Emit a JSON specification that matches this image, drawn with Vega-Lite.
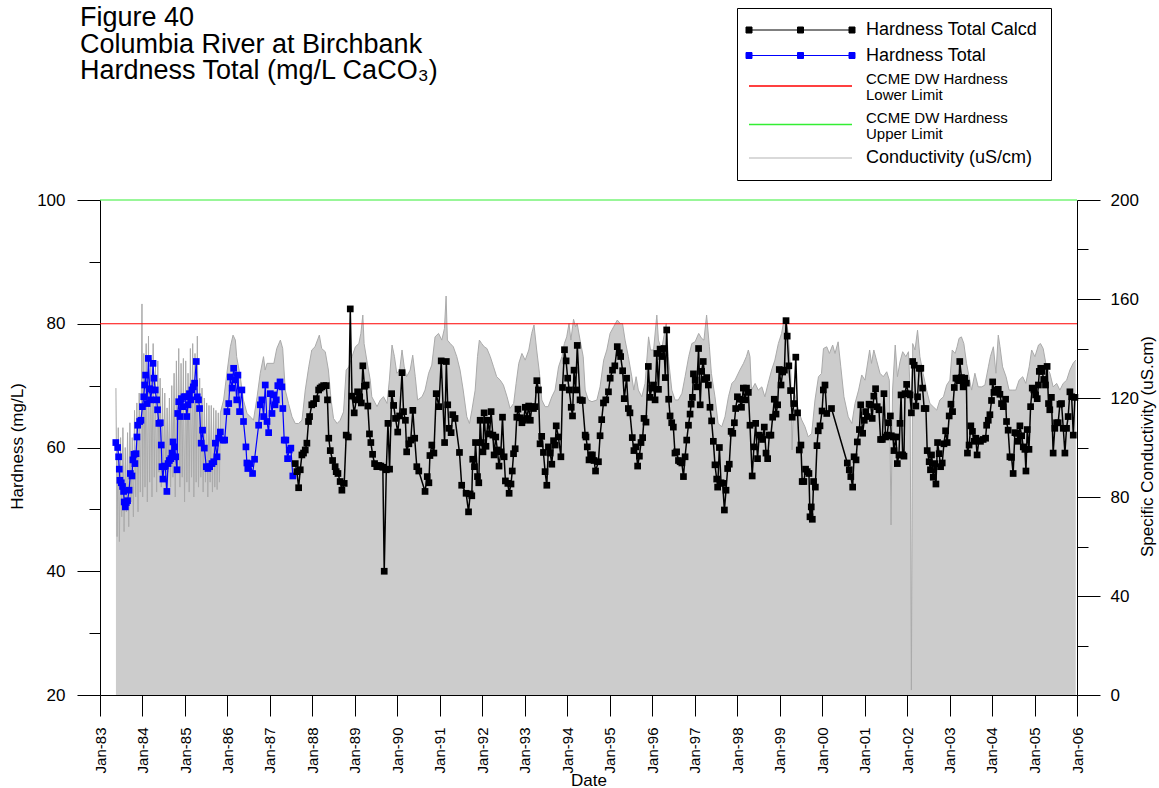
{
"$schema": "https://vega.github.io/schema/vega-lite/v6.json",
"width": 977, "height": 495,
"autosize": {"type": "none"},
"padding": {"left": 100, "top": 200, "right": 82, "bottom": 93},
"background": "#ffffff",
"config": {"view": {"stroke": null}, "font": "Liberation Sans"},
"title": {"text": ["Figure 40", "Columbia River at Birchbank", "Hardness Total (mg/L CaCO₃)"], "anchor": "start", "frame": "group", "offset": -78, "dx": -20, "fontSize": 27, "fontWeight": "normal", "font": "Liberation Sans", "color": "#000000", "lineHeight": 26.7},
"datasets": {
"cond": [
{"t":"1983-05-18","c":124},{"t":"1983-05-28","c":64},{"t":"1983-06-07","c":108},{"t":"1983-06-17","c":62},{"t":"1983-06-27","c":104},{"t":"1983-07-07","c":72},{"t":"1983-07-17","c":108},{"t":"1983-07-27","c":66},{"t":"1983-08-06","c":100},{"t":"1983-08-16","c":74},{"t":"1983-08-26","c":106},{"t":"1983-09-05","c":68},{"t":"1983-09-15","c":110},{"t":"1983-09-25","c":78},{"t":"1983-10-05","c":104},{"t":"1983-10-15","c":72},{"t":"1983-10-25","c":115},{"t":"1983-11-04","c":80},{"t":"1983-11-14","c":118},{"t":"1983-11-24","c":74},{"t":"1983-12-04","c":122},{"t":"1983-12-14","c":82},{"t":"1983-12-24","c":128},{"t":"1983-12-28","c":158},{"t":"1984-01-03","c":80},{"t":"1984-01-13","c":138},{"t":"1984-01-23","c":84},{"t":"1984-02-02","c":142},{"t":"1984-02-12","c":78},{"t":"1984-02-22","c":145},{"t":"1984-03-03","c":86},{"t":"1984-03-13","c":136},{"t":"1984-03-23","c":80},{"t":"1984-04-02","c":142},{"t":"1984-04-12","c":88},{"t":"1984-04-22","c":134},{"t":"1984-05-02","c":82},{"t":"1984-05-12","c":135},{"t":"1984-05-22","c":90},{"t":"1984-06-01","c":128},{"t":"1984-06-11","c":84},{"t":"1984-06-21","c":124},{"t":"1984-07-01","c":88},{"t":"1984-07-11","c":122},{"t":"1984-07-21","c":82},{"t":"1984-07-31","c":116},{"t":"1984-08-10","c":90},{"t":"1984-08-20","c":120},{"t":"1984-08-30","c":84},{"t":"1984-09-09","c":125},{"t":"1984-09-19","c":88},{"t":"1984-09-29","c":130},{"t":"1984-10-09","c":80},{"t":"1984-10-19","c":135},{"t":"1984-10-29","c":90},{"t":"1984-11-08","c":140},{"t":"1984-11-18","c":84},{"t":"1984-11-28","c":134},{"t":"1984-12-08","c":88},{"t":"1984-12-18","c":136},{"t":"1984-12-28","c":78},{"t":"1985-01-07","c":135},{"t":"1985-01-17","c":86},{"t":"1985-01-27","c":130},{"t":"1985-02-06","c":82},{"t":"1985-02-16","c":140},{"t":"1985-02-26","c":88},{"t":"1985-03-08","c":142},{"t":"1985-03-18","c":80},{"t":"1985-03-28","c":138},{"t":"1985-04-07","c":86},{"t":"1985-04-17","c":145},{"t":"1985-04-27","c":84},{"t":"1985-05-07","c":128},{"t":"1985-05-17","c":88},{"t":"1985-05-27","c":124},{"t":"1985-06-06","c":82},{"t":"1985-06-16","c":120},{"t":"1985-06-26","c":86},{"t":"1985-07-06","c":118},{"t":"1985-07-16","c":80},{"t":"1985-07-26","c":117},{"t":"1985-08-05","c":86},{"t":"1985-08-15","c":117},{"t":"1985-08-25","c":82},{"t":"1985-09-04","c":116},{"t":"1985-09-14","c":84},{"t":"1985-09-24","c":115},{"t":"1985-10-04","c":83},{"t":"1985-10-14","c":114},{"t":"1985-10-24","c":86},{"t":"1985-11-01","c":114},
{"t":"1985-11-29","c":119.2},{"t":"1985-12-27","c":130},{"t":"1986-01-26","c":140.7},{"t":"1986-02-18","c":145.4},{"t":"1986-03-10","c":143.4},{"t":"1986-03-21","c":136.7},{"t":"1986-04-21","c":128.6},{"t":"1986-05-18","c":119.2},{"t":"1986-06-18","c":113.8},{"t":"1986-07-16","c":112.4},{"t":"1986-08-13","c":111.1},{"t":"1986-09-13","c":120.5},{"t":"1986-10-10","c":130},{"t":"1986-11-07","c":136.7},{"t":"1986-11-21","c":131.3},{"t":"1986-12-07","c":134},{"t":"1987-02-04","c":134},{"t":"1987-03-01","c":140},{"t":"1987-04-01","c":143.4},{"t":"1987-04-21","c":140},{"t":"1987-05-13","c":123.2},{"t":"1987-06-10","c":117.8},{"t":"1987-07-10","c":112.4},{"t":"1987-08-07","c":109.7},{"t":"1987-09-04","c":109.7},{"t":"1987-10-04","c":111},{"t":"1987-11-01","c":123.2},{"t":"1987-12-01","c":132.6},{"t":"1987-12-27","c":139.4},{"t":"1988-01-24","c":140.7},{"t":"1988-03-01","c":145.4},{"t":"1988-03-21","c":140},{"t":"1988-04-21","c":138.7},{"t":"1988-05-18","c":131.3},{"t":"1988-06-10","c":119.2},{"t":"1988-07-01","c":111.7},{"t":"1988-08-01","c":109.7},{"t":"1988-08-27","c":111},{"t":"1988-09-25","c":114.4},{"t":"1988-10-18","c":131.3},{"t":"1988-11-10","c":132.6},{"t":"1988-12-07","c":136.7},{"t":"1989-01-05","c":140.7},{"t":"1989-02-04","c":142},{"t":"1989-02-21","c":146.1},{"t":"1989-03-10","c":153.5},{"t":"1989-03-21","c":142},{"t":"1989-04-13","c":135.3},{"t":"1989-05-13","c":127.2},{"t":"1989-05-26","c":120.5},{"t":"1989-06-10","c":119.2},{"t":"1989-07-10","c":116.5},{"t":"1989-08-07","c":119.2},{"t":"1989-09-04","c":120.5},{"t":"1989-10-04","c":117.8},{"t":"1989-10-24","c":127.2},{"t":"1989-11-16","c":141.4},{"t":"1989-12-07","c":136.7},{"t":"1989-12-27","c":130},{"t":"1990-01-21","c":131.3},{"t":"1990-02-10","c":139.4},{"t":"1990-03-01","c":132.6},{"t":"1990-03-21","c":128.6},{"t":"1990-04-21","c":131.3},{"t":"1990-05-13","c":137.3},{"t":"1990-06-04","c":128.6},{"t":"1990-06-24","c":119.2},{"t":"1990-08-01","c":120.5},{"t":"1990-08-27","c":123.2},{"t":"1990-09-27","c":130},{"t":"1990-10-24","c":133.3},{"t":"1990-11-21","c":144.7},{"t":"1990-12-21","c":146.1},{"t":"1991-01-18","c":143.4},{"t":"1991-02-10","c":148.1},{"t":"1991-02-24","c":161.2},{"t":"1991-03-07","c":143.4},{"t":"1991-04-01","c":142},{"t":"1991-04-27","c":140.7},{"t":"1991-05-27","c":136.7},{"t":"1991-06-24","c":131.3},{"t":"1991-07-21","c":123.2},{"t":"1991-08-21","c":112.4},{"t":"1991-09-13","c":109.7},{"t":"1991-10-04","c":115.1},{"t":"1991-11-01","c":123.2},{"t":"1991-11-21","c":136.7},{"t":"1991-12-07","c":143.4},{"t":"1991-12-27","c":142},{"t":"1992-01-18","c":140.7},{"t":"1992-02-10","c":140},{"t":"1992-03-10","c":136.7},{"t":"1992-04-07","c":132.6},{"t":"1992-05-04","c":128.6},{"t":"1992-06-04","c":127.2},{"t":"1992-07-01","c":125.2},{"t":"1992-08-01","c":120.5},{"t":"1992-08-27","c":115.8},{"t":"1992-09-27","c":117.8},{"t":"1992-10-18","c":125.9},{"t":"1992-11-10","c":134},{"t":"1992-12-07","c":138},{"t":"1993-01-04","c":135.3},{"t":"1993-02-04","c":139.4},{"t":"1993-03-01","c":146.1},{"t":"1993-03-21","c":149.5},{"t":"1993-04-13","c":139.4},{"t":"1993-05-07","c":130},{"t":"1993-05-27","c":119.2},{"t":"1993-06-24","c":116.5},{"t":"1993-07-21","c":116.5},{"t":"1993-08-21","c":120.5},{"t":"1993-09-18","c":123.2},{"t":"1993-10-18","c":132.6},{"t":"1993-11-16","c":136.7},{"t":"1993-12-07","c":142},{"t":"1993-12-27","c":144.7},{"t":"1994-01-16","c":150.1},{"t":"1994-02-01","c":143.4},{"t":"1994-02-24","c":151.8},{"t":"1994-03-13","c":148.8},{"t":"1994-03-27","c":150.1},{"t":"1994-04-21","c":143.4},{"t":"1994-05-18","c":136.7},{"t":"1994-06-04","c":123.2},{"t":"1994-07-01","c":119.2},{"t":"1994-08-01","c":118.5},{"t":"1994-09-13","c":119.2},{"t":"1994-10-10","c":124.5},{"t":"1994-11-10","c":135.3},{"t":"1994-12-07","c":139.4},{"t":"1995-01-04","c":146.1},{"t":"1995-02-04","c":148.8},{"t":"1995-03-07","c":151.5},{"t":"1995-04-01","c":150.1},{"t":"1995-04-21","c":150.1},{"t":"1995-05-13","c":143.4},{"t":"1995-06-10","c":136.7},{"t":"1995-07-10","c":128.6},{"t":"1995-07-27","c":123.2},{"t":"1995-08-16","c":128.6},{"t":"1995-09-04","c":123.2},{"t":"1995-10-04","c":120.5},{"t":"1995-11-01","c":125.9},{"t":"1995-12-01","c":144.7},{"t":"1995-12-18","c":139.4},{"t":"1996-01-13","c":139.4},{"t":"1996-02-10","c":153.5},{"t":"1996-02-24","c":143.4},{"t":"1996-03-21","c":139.4},{"t":"1996-05-01","c":150.1},{"t":"1996-05-18","c":136.7},{"t":"1996-06-18","c":123.2},{"t":"1996-07-16","c":119.2},{"t":"1996-08-13","c":119.2},{"t":"1996-09-13","c":121.9},{"t":"1996-10-10","c":128.6},{"t":"1996-11-10","c":136.7},{"t":"1996-12-07","c":142},{"t":"1997-01-04","c":142.7},{"t":"1997-02-04","c":146.1},{"t":"1997-03-01","c":144.1},{"t":"1997-03-21","c":143.4},{"t":"1997-04-13","c":153.5},{"t":"1997-05-07","c":140.7},{"t":"1997-05-24","c":130},{"t":"1997-06-24","c":120.5},{"t":"1997-07-21","c":109.7},{"t":"1997-08-21","c":108.4},{"t":"1997-09-18","c":112.4},{"t":"1997-10-18","c":120.5},{"t":"1997-11-16","c":125.9},{"t":"1997-12-13","c":127.2},{"t":"1998-01-24","c":131.3},{"t":"1998-02-24","c":134},{"t":"1998-03-21","c":136.7},{"t":"1998-04-07","c":139.4},{"t":"1998-04-21","c":136.7},{"t":"1998-05-04","c":123.2},{"t":"1998-06-04","c":125.9},{"t":"1998-07-01","c":123.2},{"t":"1998-08-01","c":124.5},{"t":"1998-08-27","c":120.5},{"t":"1998-09-24","c":125.9},{"t":"1998-10-24","c":131.3},{"t":"1998-11-21","c":135.3},{"t":"1998-12-21","c":142},{"t":"1999-01-18","c":146.1},{"t":"1999-02-10","c":152.2},{"t":"1999-02-24","c":152.2},{"t":"1999-03-16","c":146.1},{"t":"1999-04-07","c":130},{"t":"1999-04-18","c":99},{"t":"1999-05-04","c":123.2},{"t":"1999-06-10","c":115.1},{"t":"1999-07-10","c":111.1},{"t":"1999-08-07","c":108.4},{"t":"1999-09-04","c":104.3},{"t":"1999-10-04","c":105.7},{"t":"1999-11-01","c":119.2},{"t":"1999-12-01","c":128.6},{"t":"1999-12-27","c":129.9},{"t":"2000-01-13","c":140},{"t":"2000-02-10","c":140.7},{"t":"2000-03-04","c":138},{"t":"2000-04-01","c":141.4},{"t":"2000-04-21","c":138},{"t":"2000-05-18","c":142.7},{"t":"2000-06-10","c":132.6},{"t":"2000-07-07","c":120.5},{"t":"2000-08-13","c":112.4},{"t":"2000-09-13","c":109.7},{"t":"2000-10-10","c":117.8},{"t":"2000-11-10","c":123.2},{"t":"2000-12-07","c":129.3},{"t":"2001-01-04","c":127.2},{"t":"2001-02-13","c":139.4},{"t":"2001-03-01","c":134},{"t":"2001-03-21","c":139.4},{"t":"2001-04-13","c":135.3},{"t":"2001-05-13","c":130},{"t":"2001-06-10","c":128.6},{"t":"2001-07-10","c":130.6},{"t":"2001-08-01","c":127.2},{"t":"2001-08-16","c":68.7},{"t":"2001-08-29","c":123.2},{"t":"2001-09-21","c":141.4},{"t":"2001-10-10","c":128.6},{"t":"2001-11-01","c":134.6},{"t":"2001-11-24","c":138.7},{"t":"2001-12-21","c":136.7},{"t":"2002-01-13","c":138.7},{"t":"2002-01-27","c":123.2},{"t":"2002-02-07","c":2},{"t":"2002-02-18","c":142},{"t":"2002-03-10","c":139.4},{"t":"2002-04-01","c":147.4},{"t":"2002-04-21","c":136.7},{"t":"2002-05-18","c":130},{"t":"2002-06-18","c":123.2},{"t":"2002-07-16","c":117.8},{"t":"2002-08-13","c":116.5},{"t":"2002-09-13","c":115.1},{"t":"2002-10-10","c":119.2},{"t":"2002-11-10","c":120.5},{"t":"2002-12-07","c":125.2},{"t":"2003-01-04","c":127.2},{"t":"2003-01-24","c":139.4},{"t":"2003-02-18","c":138},{"t":"2003-03-07","c":140.7},{"t":"2003-03-24","c":144.1},{"t":"2003-04-13","c":144.7},{"t":"2003-05-04","c":142},{"t":"2003-05-27","c":134},{"t":"2003-06-18","c":128.6},{"t":"2003-07-10","c":123.2},{"t":"2003-08-07","c":130},{"t":"2003-09-04","c":124.5},{"t":"2003-10-04","c":124.5},{"t":"2003-11-01","c":125.2},{"t":"2003-12-01","c":132.6},{"t":"2003-12-18","c":136.7},{"t":"2004-01-13","c":140.7},{"t":"2004-02-04","c":130},{"t":"2004-02-24","c":145.4},{"t":"2004-03-10","c":140.7},{"t":"2004-04-01","c":132.6},{"t":"2004-05-01","c":128.6},{"t":"2004-05-27","c":123.2},{"t":"2004-06-24","c":123.2},{"t":"2004-07-24","c":123.2},{"t":"2004-08-21","c":127.2},{"t":"2004-09-21","c":128.6},{"t":"2004-10-18","c":125.9},{"t":"2004-11-16","c":132.6},{"t":"2004-12-07","c":139.4},{"t":"2005-01-04","c":136.7},{"t":"2005-02-04","c":141.4},{"t":"2005-02-21","c":142},{"t":"2005-03-16","c":140},{"t":"2005-04-13","c":132.6},{"t":"2005-05-13","c":130},{"t":"2005-06-10","c":124.5},{"t":"2005-07-10","c":125.9},{"t":"2005-08-07","c":123.2},{"t":"2005-09-04","c":125.9},{"t":"2005-10-04","c":127.2},{"t":"2005-11-01","c":131.3},{"t":"2005-11-29","c":134},{"t":"2005-12-21","c":135.3}
],
"total": [
{"t":"1983-05-17","h":60.8},{"t":"1983-06-02","h":60.0},{"t":"1983-06-10","h":58.5},{"t":"1983-06-16","h":56.5},{"t":"1983-06-21","h":54.7},{"t":"1983-07-03","h":54.3},{"t":"1983-07-14","h":53.7},{"t":"1983-07-23","h":52.9},{"t":"1983-07-28","h":51.2},{"t":"1983-08-07","h":50.4},{"t":"1983-08-15","h":51.1},{"t":"1983-08-26","h":51.4},{"t":"1983-09-08","h":53.1},{"t":"1983-09-19","h":55.8},{"t":"1983-10-03","h":55.4},{"t":"1983-10-11","h":58.0},{"t":"1983-10-20","h":58.9},{"t":"1983-10-28","h":57.4},{"t":"1983-11-07","h":59.0},{"t":"1983-11-15","h":61.7},{"t":"1983-11-21","h":63.6},{"t":"1983-12-08","h":64.2},{"t":"1983-12-19","h":64.4},{"t":"1984-01-01","h":66.6},{"t":"1984-01-12","h":68.2},{"t":"1984-01-20","h":70.1},{"t":"1984-01-28","h":71.7},{"t":"1984-02-10","h":67.1},{"t":"1984-02-21","h":74.4},{"t":"1984-03-03","h":69.5},{"t":"1984-03-11","h":67.7},{"t":"1984-03-22","h":69.3},{"t":"1984-04-01","h":73.6},{"t":"1984-04-09","h":71.2},{"t":"1984-04-20","h":69.3},{"t":"1984-05-02","h":67.7},{"t":"1984-05-10","h":66.1},{"t":"1984-05-21","h":63.9},{"t":"1984-06-03","h":64.0},{"t":"1984-06-11","h":60.4},{"t":"1984-06-17","h":56.9},{"t":"1984-06-25","h":54.9},{"t":"1984-07-04","h":56.9},{"t":"1984-07-15","h":57.0},{"t":"1984-07-29","h":52.9},{"t":"1984-08-08","h":57.4},{"t":"1984-08-19","h":57.9},{"t":"1984-09-01","h":58.2},{"t":"1984-09-12","h":59.1},{"t":"1984-09-20","h":60.9},{"t":"1984-10-02","h":60.1},{"t":"1984-10-13","h":58.5},{"t":"1984-10-24","h":56.4},{"t":"1984-10-30","h":65.5},{"t":"1984-11-08","h":67.4},{"t":"1984-11-19","h":65.0},{"t":"1984-12-01","h":67.9},{"t":"1984-12-12","h":66.6},{"t":"1984-12-23","h":68.2},{"t":"1985-01-05","h":68.2},{"t":"1985-01-16","h":65.0},{"t":"1985-01-27","h":66.9},{"t":"1985-02-08","h":68.7},{"t":"1985-02-19","h":67.7},{"t":"1985-03-01","h":69.3},{"t":"1985-03-13","h":69.8},{"t":"1985-03-24","h":70.4},{"t":"1985-04-08","h":73.9},{"t":"1985-04-16","h":68.2},{"t":"1985-04-27","h":67.7},{"t":"1985-05-06","h":66.3},{"t":"1985-05-20","h":60.7},{"t":"1985-06-01","h":62.8},{"t":"1985-06-16","h":59.9},{"t":"1985-07-03","h":56.9},{"t":"1985-07-17","h":56.6},{"t":"1985-08-01","h":56.9},{"t":"1985-08-21","h":57.4},{"t":"1985-09-05","h":57.7},{"t":"1985-09-19","h":60.7},{"t":"1985-10-03","h":58.5},{"t":"1985-10-17","h":61.5},{"t":"1985-11-01","h":62.5},{"t":"1985-11-24","h":61.2},{"t":"1985-12-08","h":61.2},{"t":"1985-12-27","h":65.8},{"t":"1986-01-12","h":67.1},{"t":"1986-01-26","h":71.4},{"t":"1986-02-10","h":69.6},{"t":"1986-02-23","h":72.8},{"t":"1986-03-09","h":70.9},{"t":"1986-03-22","h":67.7},{"t":"1986-04-01","h":71.7},{"t":"1986-04-15","h":65.8},{"t":"1986-05-05","h":69.3},{"t":"1986-05-19","h":64.2},{"t":"1986-06-09","h":60.1},{"t":"1986-06-17","h":57.5},{"t":"1986-06-25","h":56.6},{"t":"1986-07-15","h":57.4},{"t":"1986-08-05","h":55.8},{"t":"1986-08-22","h":58.1},{"t":"1986-09-26","h":63.6},{"t":"1986-10-10","h":66.9},{"t":"1986-10-24","h":67.7},{"t":"1986-11-08","h":65.0},{"t":"1986-11-22","h":70.1},{"t":"1986-12-07","h":64.2},{"t":"1986-12-21","h":62.4},{"t":"1987-01-05","h":68.7},{"t":"1987-01-19","h":65.5},{"t":"1987-02-03","h":68.5},{"t":"1987-02-14","h":66.9},{"t":"1987-02-25","h":67.7},{"t":"1987-03-10","h":70.0},{"t":"1987-03-29","h":70.6},{"t":"1987-04-14","h":69.8},{"t":"1987-04-22","h":66.3},{"t":"1987-05-04","h":61.2},{"t":"1987-05-18","h":61.2},{"t":"1987-06-02","h":58.2},{"t":"1987-06-16","h":59.6},{"t":"1987-06-30","h":59.9},{"t":"1987-07-17","h":55.4}
],
"calcd": [
{"t":"1987-08-07","h":57.4},{"t":"1987-08-21","h":56.1},{"t":"1987-09-05","h":53.5},{"t":"1987-09-19","h":56.4},{"t":"1987-10-03","h":58.8},{"t":"1987-10-17","h":59.1},{"t":"1987-11-01","h":59.6},{"t":"1987-11-15","h":60.7},{"t":"1987-11-29","h":64.2},{"t":"1987-12-08","h":65.0},{"t":"1987-12-27","h":66.9},{"t":"1988-01-12","h":67.1},{"t":"1988-02-04","h":67.9},{"t":"1988-02-24","h":69.3},{"t":"1988-03-08","h":69.6},{"t":"1988-03-22","h":69.8},{"t":"1988-04-07","h":70.0},{"t":"1988-04-29","h":70.0},{"t":"1988-05-10","h":67.7},{"t":"1988-05-21","h":61.5},{"t":"1988-06-03","h":59.5},{"t":"1988-06-23","h":57.9},{"t":"1988-07-15","h":56.9},{"t":"1988-07-24","h":56.1},{"t":"1988-08-08","h":55.8},{"t":"1988-08-27","h":54.5},{"t":"1988-09-11","h":53.1},{"t":"1988-10-01","h":54.2},{"t":"1988-10-18","h":62.0},{"t":"1988-11-05","h":61.7},{"t":"1988-11-22","h":82.4},{"t":"1988-12-07","h":68.3},{"t":"1988-12-26","h":65.6},{"t":"1989-01-13","h":67.7},{"t":"1989-01-24","h":69.0},{"t":"1989-02-11","h":68.2},{"t":"1989-02-25","h":67.2},{"t":"1989-03-10","h":73.2},{"t":"1989-03-24","h":69.9},{"t":"1989-04-08","h":70.1},{"t":"1989-04-22","h":66.7},{"t":"1989-05-06","h":62.2},{"t":"1989-05-18","h":60.8},{"t":"1989-06-02","h":58.9},{"t":"1989-06-19","h":57.4},{"t":"1989-07-08","h":56.9},{"t":"1989-07-26","h":57.1},{"t":"1989-08-12","h":57.0},{"t":"1989-08-29","h":56.8},{"t":"1989-09-10","h":40.0},{"t":"1989-09-28","h":56.4},{"t":"1989-10-12","h":63.9},{"t":"1989-10-26","h":56.5},{"t":"1989-11-13","h":68.7},{"t":"1989-11-30","h":66.8},{"t":"1989-12-16","h":64.7},{"t":"1990-01-04","h":62.5},{"t":"1990-01-20","h":65.1},{"t":"1990-02-10","h":72.1},{"t":"1990-02-23","h":65.8},{"t":"1990-03-11","h":64.4},{"t":"1990-03-22","h":59.3},{"t":"1990-04-10","h":60.6},{"t":"1990-04-26","h":61.2},{"t":"1990-05-14","h":66.0},{"t":"1990-05-30","h":61.5},{"t":"1990-06-17","h":56.9},{"t":"1990-07-04","h":56.2},{"t":"1990-08-27","h":52.9},{"t":"1990-09-15","h":55.3},{"t":"1990-09-29","h":54.3},{"t":"1990-10-08","h":58.7},{"t":"1990-10-24","h":60.4},{"t":"1990-11-11","h":59.1},{"t":"1990-12-01","h":68.7},{"t":"1990-12-24","h":66.6},{"t":"1991-01-13","h":74.0},{"t":"1991-02-11","h":60.8},{"t":"1991-02-26","h":73.9},{"t":"1991-03-10","h":66.9},{"t":"1991-03-21","h":63.1},{"t":"1991-04-08","h":62.4},{"t":"1991-04-22","h":65.3},{"t":"1991-05-12","h":64.7},{"t":"1991-06-19","h":59.2},{"t":"1991-07-08","h":53.9},{"t":"1991-08-15","h":52.6},{"t":"1991-09-05","h":49.6},{"t":"1991-09-19","h":52.5},{"t":"1991-10-03","h":52.2},{"t":"1991-10-11","h":58.1},{"t":"1991-10-26","h":56.9},{"t":"1991-11-04","h":60.8},{"t":"1991-11-21","h":55.3},{"t":"1991-12-02","h":54.3},{"t":"1991-12-14","h":64.4},{"t":"1991-12-25","h":60.8},{"t":"1992-01-07","h":59.3},{"t":"1992-01-17","h":65.6},{"t":"1992-02-02","h":60.2},{"t":"1992-02-18","h":64.4},{"t":"1992-03-03","h":62.2},{"t":"1992-03-17","h":65.8},{"t":"1992-04-01","h":62.0},{"t":"1992-04-12","h":58.8},{"t":"1992-04-26","h":61.7},{"t":"1992-05-10","h":59.6},{"t":"1992-05-24","h":57.0},{"t":"1992-06-09","h":59.3},{"t":"1992-06-23","h":64.9},{"t":"1992-07-07","h":58.5},{"t":"1992-07-18","h":54.6},{"t":"1992-08-08","h":54.2},{"t":"1992-08-19","h":52.6},{"t":"1992-09-04","h":54.1},{"t":"1992-09-15","h":56.2},{"t":"1992-09-26","h":59.0},{"t":"1992-10-10","h":59.8},{"t":"1992-10-24","h":64.9},{"t":"1992-11-03","h":66.2},{"t":"1992-11-22","h":64.8},{"t":"1992-12-07","h":64.0},{"t":"1992-12-21","h":64.4},{"t":"1993-01-05","h":66.5},{"t":"1993-01-19","h":64.7},{"t":"1993-02-03","h":66.7},{"t":"1993-02-17","h":64.4},{"t":"1993-03-02","h":66.6},{"t":"1993-03-16","h":66.3},{"t":"1993-03-30","h":66.6},{"t":"1993-04-14","h":70.8},{"t":"1993-04-28","h":69.3},{"t":"1993-05-12","h":60.6},{"t":"1993-05-26","h":61.8},{"t":"1993-06-10","h":59.2},{"t":"1993-06-24","h":56.1},{"t":"1993-07-09","h":53.9},{"t":"1993-07-23","h":60.1},{"t":"1993-08-07","h":59.1},{"t":"1993-08-21","h":57.3},{"t":"1993-09-05","h":61.1},{"t":"1993-09-19","h":60.4},{"t":"1993-09-28","h":63.5},{"t":"1993-10-17","h":61.7},{"t":"1993-11-07","h":58.5},{"t":"1993-11-21","h":69.7},{"t":"1993-12-08","h":75.8},{"t":"1993-12-22","h":74.0},{"t":"1994-01-04","h":71.2},{"t":"1994-01-18","h":69.3},{"t":"1994-02-04","h":66.5},{"t":"1994-02-15","h":65.1},{"t":"1994-02-28","h":72.5},{"t":"1994-03-14","h":69.3},{"t":"1994-03-28","h":76.5},{"t":"1994-04-21","h":67.7},{"t":"1994-05-11","h":67.6},{"t":"1994-06-04","h":62.0},{"t":"1994-06-11","h":61.7},{"t":"1994-06-22","h":60.1},{"t":"1994-07-07","h":58.0},{"t":"1994-07-21","h":58.8},{"t":"1994-08-05","h":58.8},{"t":"1994-08-19","h":57.9},{"t":"1994-09-01","h":56.2},{"t":"1994-09-26","h":57.7},{"t":"1994-10-10","h":61.9},{"t":"1994-10-24","h":64.5},{"t":"1994-11-08","h":67.2},{"t":"1994-11-28","h":67.7},{"t":"1994-12-21","h":69.0},{"t":"1995-01-05","h":71.2},{"t":"1995-01-25","h":72.5},{"t":"1995-02-14","h":73.2},{"t":"1995-03-07","h":76.3},{"t":"1995-03-24","h":75.3},{"t":"1995-04-05","h":74.7},{"t":"1995-04-22","h":72.4},{"t":"1995-05-06","h":67.9},{"t":"1995-05-26","h":71.2},{"t":"1995-06-10","h":66.3},{"t":"1995-06-24","h":65.6},{"t":"1995-07-14","h":61.6},{"t":"1995-07-28","h":59.5},{"t":"1995-08-15","h":60.1},{"t":"1995-08-29","h":57.0},{"t":"1995-09-13","h":58.6},{"t":"1995-09-27","h":60.8},{"t":"1995-10-11","h":61.6},{"t":"1995-10-23","h":64.7},{"t":"1995-11-09","h":64.1},{"t":"1995-11-29","h":73.1},{"t":"1995-12-14","h":68.1},{"t":"1995-12-28","h":69.6},{"t":"1996-01-12","h":70.1},{"t":"1996-01-26","h":67.7},{"t":"1996-02-10","h":75.2},{"t":"1996-02-24","h":69.4},{"t":"1996-03-09","h":75.9},{"t":"1996-03-25","h":74.7},{"t":"1996-04-12","h":76.0},{"t":"1996-04-23","h":71.3},{"t":"1996-05-05","h":79.0},{"t":"1996-05-22","h":67.8},{"t":"1996-06-03","h":65.1},{"t":"1996-06-17","h":64.0},{"t":"1996-07-01","h":63.3},{"t":"1996-07-15","h":59.1},{"t":"1996-07-29","h":59.3},{"t":"1996-08-14","h":57.9},{"t":"1996-08-28","h":57.7},{"t":"1996-09-12","h":57.5},{"t":"1996-09-26","h":55.3},{"t":"1996-10-10","h":58.5},{"t":"1996-10-24","h":61.2},{"t":"1996-11-08","h":63.6},{"t":"1996-11-22","h":65.4},{"t":"1996-12-01","h":67.0},{"t":"1996-12-12","h":68.1},{"t":"1996-12-21","h":71.9},{"t":"1997-01-05","h":70.9},{"t":"1997-01-19","h":69.8},{"t":"1997-02-03","h":76.0},{"t":"1997-02-17","h":66.9},{"t":"1997-03-01","h":72.3},{"t":"1997-03-15","h":73.9},{"t":"1997-03-29","h":71.0},{"t":"1997-04-14","h":71.3},{"t":"1997-04-28","h":70.1},{"t":"1997-05-12","h":66.5},{"t":"1997-05-26","h":64.3},{"t":"1997-06-10","h":61.0},{"t":"1997-06-24","h":57.2},{"t":"1997-07-09","h":54.9},{"t":"1997-07-17","h":53.6},{"t":"1997-08-01","h":60.0},{"t":"1997-08-15","h":54.3},{"t":"1997-08-29","h":54.2},{"t":"1997-09-13","h":49.9},{"t":"1997-09-27","h":53.1},{"t":"1997-10-11","h":56.6},{"t":"1997-10-25","h":57.3},{"t":"1997-11-10","h":62.6},{"t":"1997-11-24","h":62.3},{"t":"1997-12-08","h":64.0},{"t":"1997-12-19","h":66.3},{"t":"1998-01-03","h":68.2},{"t":"1998-01-20","h":67.8},{"t":"1998-02-07","h":66.5},{"t":"1998-02-23","h":69.6},{"t":"1998-03-08","h":67.7},{"t":"1998-03-22","h":69.6},{"t":"1998-04-07","h":68.9},{"t":"1998-04-21","h":63.6},{"t":"1998-05-10","h":55.4},{"t":"1998-05-25","h":60.1},{"t":"1998-06-09","h":63.9},{"t":"1998-06-25","h":58.2},{"t":"1998-07-10","h":62.0},{"t":"1998-07-24","h":61.7},{"t":"1998-08-08","h":61.3},{"t":"1998-08-22","h":63.3},{"t":"1998-09-06","h":59.1},{"t":"1998-09-20","h":58.2},{"t":"1998-10-04","h":62.0},{"t":"1998-10-18","h":62.0},{"t":"1998-11-02","h":64.9},{"t":"1998-11-16","h":67.8},{"t":"1998-12-01","h":65.4},{"t":"1998-12-15","h":66.9},{"t":"1998-12-29","h":72.6},{"t":"1999-01-13","h":70.1},{"t":"1999-01-27","h":72.2},{"t":"1999-02-11","h":72.5},{"t":"1999-02-25","h":80.5},{"t":"1999-03-07","h":78.0},{"t":"1999-03-21","h":73.2},{"t":"1999-04-05","h":69.2},{"t":"1999-04-19","h":64.9},{"t":"1999-05-03","h":67.1},{"t":"1999-05-20","h":74.6},{"t":"1999-06-04","h":65.6},{"t":"1999-06-19","h":59.6},{"t":"1999-07-03","h":60.4},{"t":"1999-07-14","h":54.5},{"t":"1999-07-28","h":54.5},{"t":"1999-08-12","h":56.5},{"t":"1999-08-26","h":56.1},{"t":"1999-09-10","h":55.8},{"t":"1999-09-19","h":48.8},{"t":"1999-09-30","h":50.4},{"t":"1999-10-09","h":48.4},{"t":"1999-10-20","h":54.5},{"t":"1999-11-04","h":53.6},{"t":"1999-11-18","h":60.3},{"t":"1999-11-29","h":62.7},{"t":"1999-12-14","h":63.5},{"t":"2000-01-01","h":65.9},{"t":"2000-01-12","h":69.3},{"t":"2000-01-26","h":70.1},{"t":"2000-02-10","h":65.5},{"t":"2000-03-22","h":66.3},{"t":"2000-08-05","h":57.5},{"t":"2000-08-22","h":56.4},{"t":"2000-09-04","h":55.3},{"t":"2000-09-20","h":53.6},{"t":"2000-10-02","h":58.5},{"t":"2000-10-19","h":58.0},{"t":"2000-10-30","h":60.9},{"t":"2000-11-17","h":62.9},{"t":"2000-11-28","h":66.9},{"t":"2000-12-15","h":62.3},{"t":"2000-12-29","h":64.4},{"t":"2001-01-10","h":65.8},{"t":"2001-01-24","h":65.0},{"t":"2001-02-08","h":67.0},{"t":"2001-02-22","h":66.9},{"t":"2001-03-07","h":64.7},{"t":"2001-03-21","h":68.3},{"t":"2001-04-05","h":69.5},{"t":"2001-04-19","h":66.6},{"t":"2001-05-04","h":66.1},{"t":"2001-05-18","h":61.3},{"t":"2001-06-02","h":61.3},{"t":"2001-06-16","h":68.7},{"t":"2001-06-30","h":61.7},{"t":"2001-07-14","h":62.0},{"t":"2001-07-25","h":64.0},{"t":"2001-08-10","h":65.1},{"t":"2001-08-18","h":61.9},{"t":"2001-09-02","h":61.7},{"t":"2001-09-10","h":59.5},{"t":"2001-09-27","h":61.7},{"t":"2001-10-09","h":57.4},{"t":"2001-10-23","h":58.8},{"t":"2001-11-01","h":63.9},{"t":"2001-11-10","h":68.5},{"t":"2001-11-24","h":58.8},{"t":"2001-12-05","h":58.6},{"t":"2001-12-14","h":68.7},{"t":"2001-12-28","h":70.2},{"t":"2002-01-12","h":68.7},{"t":"2002-01-26","h":68.5},{"t":"2002-02-07","h":65.6},{"t":"2002-02-18","h":73.9},{"t":"2002-03-03","h":73.3},{"t":"2002-03-17","h":66.7},{"t":"2002-04-01","h":68.2},{"t":"2002-04-15","h":72.8},{"t":"2002-04-29","h":72.8},{"t":"2002-05-14","h":69.6},{"t":"2002-05-28","h":66.3},{"t":"2002-06-12","h":66.3},{"t":"2002-06-23","h":59.5},{"t":"2002-07-10","h":57.7},{"t":"2002-07-21","h":56.4},{"t":"2002-07-30","h":58.8},{"t":"2002-08-14","h":55.2},{"t":"2002-08-28","h":57.4},{"t":"2002-09-06","h":54.1},{"t":"2002-09-20","h":60.8},{"t":"2002-10-04","h":59.0},{"t":"2002-10-16","h":56.9},{"t":"2002-10-30","h":57.5},{"t":"2002-11-14","h":60.6},{"t":"2002-11-28","h":62.7},{"t":"2002-12-12","h":60.8},{"t":"2002-12-29","h":65.1},{"t":"2003-01-13","h":67.0},{"t":"2003-01-27","h":65.8},{"t":"2003-02-11","h":69.7},{"t":"2003-02-25","h":71.2},{"t":"2003-03-10","h":71.2},{"t":"2003-03-24","h":70.8},{"t":"2003-03-30","h":73.9},{"t":"2003-04-14","h":71.3},{"t":"2003-04-28","h":69.8},{"t":"2003-05-12","h":71.2},{"t":"2003-05-26","h":70.4},{"t":"2003-06-04","h":59.1},{"t":"2003-06-18","h":60.4},{"t":"2003-07-03","h":63.5},{"t":"2003-07-17","h":62.6},{"t":"2003-08-01","h":61.0},{"t":"2003-08-15","h":61.5},{"t":"2003-08-26","h":58.8},{"t":"2003-09-10","h":61.1},{"t":"2003-09-24","h":61.0},{"t":"2003-10-17","h":61.3},{"t":"2003-11-07","h":61.5},{"t":"2003-11-16","h":63.6},{"t":"2003-11-30","h":64.4},{"t":"2003-12-14","h":65.3},{"t":"2003-12-28","h":67.6},{"t":"2004-01-07","h":70.6},{"t":"2004-01-18","h":68.9},{"t":"2004-02-05","h":69.3},{"t":"2004-02-24","h":69.4},{"t":"2004-03-09","h":68.6},{"t":"2004-03-23","h":67.1},{"t":"2004-04-07","h":66.6},{"t":"2004-04-27","h":67.8},{"t":"2004-05-05","h":64.2},{"t":"2004-05-19","h":62.8},{"t":"2004-06-03","h":58.5},{"t":"2004-06-17","h":58.4},{"t":"2004-07-01","h":55.8},{"t":"2004-07-16","h":62.4},{"t":"2004-07-30","h":62.3},{"t":"2004-08-14","h":61.0},{"t":"2004-08-28","h":63.5},{"t":"2004-09-12","h":61.9},{"t":"2004-09-26","h":60.1},{"t":"2004-10-10","h":59.7},{"t":"2004-10-19","h":56.2},{"t":"2004-10-30","h":62.9},{"t":"2004-11-14","h":59.7},{"t":"2004-11-28","h":66.6},{"t":"2004-12-12","h":69.6},{"t":"2004-12-26","h":69.3},{"t":"2005-01-10","h":68.5},{"t":"2005-01-24","h":67.9},{"t":"2005-02-03","h":70.1},{"t":"2005-02-11","h":72.3},{"t":"2005-02-23","h":72.8},{"t":"2005-03-07","h":72.3},{"t":"2005-03-21","h":71.0},{"t":"2005-04-05","h":70.1},{"t":"2005-04-19","h":73.1},{"t":"2005-05-01","h":67.1},{"t":"2005-05-12","h":66.1},{"t":"2005-05-26","h":68.1},{"t":"2005-06-10","h":59.1},{"t":"2005-06-24","h":63.1},{"t":"2005-07-09","h":64.0},{"t":"2005-07-23","h":64.0},{"t":"2005-08-07","h":67.0},{"t":"2005-08-21","h":67.1},{"t":"2005-09-05","h":63.1},{"t":"2005-09-19","h":59.1},{"t":"2005-10-03","h":63.1},{"t":"2005-10-17","h":65.0},{"t":"2005-11-01","h":69.0},{"t":"2005-11-16","h":68.2},{"t":"2005-11-30","h":62.0},{"t":"2005-12-14","h":68.1}
]
},
"layer": [
{"data": {"name": "cond"},
 "layer": [
  {"mark": {"type": "area", "opacity": 1},
   "encoding": {
    "x": {"field": "t", "type": "temporal",
      "scale": {"type": "utc", "domain": [{"year": 1983, "month": 1, "date": 1, "utc": true}, {"year": 2006, "month": 1, "date": 1, "utc": true}]},
      "axis": {"orient": "bottom",
        "values": [{"year":1983,"month":1,"date":1,"utc":true},{"year":1983,"month":7,"date":1,"utc":true},{"year":1984,"month":1,"date":1,"utc":true},{"year":1984,"month":7,"date":1,"utc":true},{"year":1985,"month":1,"date":1,"utc":true},{"year":1985,"month":7,"date":1,"utc":true},{"year":1986,"month":1,"date":1,"utc":true},{"year":1986,"month":7,"date":1,"utc":true},{"year":1987,"month":1,"date":1,"utc":true},{"year":1987,"month":7,"date":1,"utc":true},{"year":1988,"month":1,"date":1,"utc":true},{"year":1988,"month":7,"date":1,"utc":true},{"year":1989,"month":1,"date":1,"utc":true},{"year":1989,"month":7,"date":1,"utc":true},{"year":1990,"month":1,"date":1,"utc":true},{"year":1990,"month":7,"date":1,"utc":true},{"year":1991,"month":1,"date":1,"utc":true},{"year":1991,"month":7,"date":1,"utc":true},{"year":1992,"month":1,"date":1,"utc":true},{"year":1992,"month":7,"date":1,"utc":true},{"year":1993,"month":1,"date":1,"utc":true},{"year":1993,"month":7,"date":1,"utc":true},{"year":1994,"month":1,"date":1,"utc":true},{"year":1994,"month":7,"date":1,"utc":true},{"year":1995,"month":1,"date":1,"utc":true},{"year":1995,"month":7,"date":1,"utc":true},{"year":1996,"month":1,"date":1,"utc":true},{"year":1996,"month":7,"date":1,"utc":true},{"year":1997,"month":1,"date":1,"utc":true},{"year":1997,"month":7,"date":1,"utc":true},{"year":1998,"month":1,"date":1,"utc":true},{"year":1998,"month":7,"date":1,"utc":true},{"year":1999,"month":1,"date":1,"utc":true},{"year":1999,"month":7,"date":1,"utc":true},{"year":2000,"month":1,"date":1,"utc":true},{"year":2000,"month":7,"date":1,"utc":true},{"year":2001,"month":1,"date":1,"utc":true},{"year":2001,"month":7,"date":1,"utc":true},{"year":2002,"month":1,"date":1,"utc":true},{"year":2002,"month":7,"date":1,"utc":true},{"year":2003,"month":1,"date":1,"utc":true},{"year":2003,"month":7,"date":1,"utc":true},{"year":2004,"month":1,"date":1,"utc":true},{"year":2004,"month":7,"date":1,"utc":true},{"year":2005,"month":1,"date":1,"utc":true},{"year":2005,"month":7,"date":1,"utc":true},{"year":2006,"month":1,"date":1,"utc":true}],
        "format": "%b-%y",
        "labelExpr": "utcmonth(datum.value) == 6 ? '' : datum.label",
        "labelAngle": 270, "labelAlign": "right", "labelBaseline": "middle", "labelPadding": 11,
        "labelFont": "Liberation Sans", "labelFontSize": 15, "labelColor": "#000000",
        "labelOverlap": false, "labelFlush": false, "labelBound": false,
        "tickSize": {"condition": {"test": "utcmonth(datum.value) == 6", "value": 11}, "value": 21},
        "tickColor": "#000000", "tickWidth": 1, "domainColor": "#000000", "domainWidth": 1, "grid": false,
        "title": "Date", "titleFont": "Liberation Sans", "titleFontSize": 17, "titleFontWeight": "normal", "titleColor": "#000000", "titleY": 90, "titleBaseline": "alphabetic"}},
    "y": {"field": "c", "type": "quantitative",
      "scale": {"domain": [0, 200], "nice": false, "zero": false},
      "axis": {"orient": "right", "values": [0,20,40,60,80,100,120,140,160,180,200],
        "labelExpr": "datum.value % 40 == 0 ? datum.label : ''",
        "tickSize": {"condition": {"test": "datum.value % 40 != 0", "value": 11}, "value": 23},
        "labelPadding": 10, "labelFont": "Liberation Sans", "labelFontSize": 17, "labelColor": "#000000",
        "labelOverlap": false, "labelFlush": false, "labelBound": false,
        "tickColor": "#000000", "domainColor": "#000000", "grid": false,
        "title": "Specific Conductivity (uS.cm)", "titleFont": "Liberation Sans", "titleFontSize": 17, "titleFontWeight": "normal", "titleColor": "#000000",
        "titleAngle": 270, "titleX": 70, "titleY": 246, "titleAlign": "center", "titleBaseline": "middle"}},
    "color": {"datum": "Conductivity (uS/cm)",
      "scale": {"domain": ["Hardness Total Calcd", "Hardness Total", "CCME DW Hardness|Lower Limit", "CCME DW Hardness|Upper Limit", "Conductivity (uS/cm)"],
                "range": ["#000000", "#0000ff", "#ff0000", "#33ee33", "#cccccc"]},
      "legend": {"orient": "none", "legendX": 637, "legendY": -192, "title": null,
        "padding": 13, "strokeColor": "#000000", "fillColor": "#ffffff",
        "labelFont": "Liberation Sans", "labelFontSize": 18, "labelColor": "#000000", "labelLimit": 400,
        "labelExpr": "split(datum.label, '|')",
        "symbolSize": 400, "symbolOffset": 41.5, "labelOffset": 56.5, "symbolStrokeWidth": 1, "rowPadding": 7.5,
        "encoding": {
          "symbols": {
            "shape": {"condition": {"test": "indexof(datum.value, 'Hardness Total') == 0", "value": "M-5.15,0H5.15M-5.45,-0.3H-4.85V0.3H-5.45ZM-0.3,-0.3H0.3V0.3H-0.3ZM4.85,-0.3H5.45V0.3H4.85Z"}, "value": "M-5.15,-0.07H5.15V0.07H-5.15Z"},
            "size": {"value": 400},
            "strokeWidth": {"value": {"expr": "datum.value && indexof(datum.value, 'Hardness Total') == 0 ? 1 : 0"}},
            "opacity": {"value": 1},
            "fill": {"condition": [{"test": "datum.value == 'Hardness Total Calcd'", "value": "#000000"}, {"test": "datum.value == 'Hardness Total'", "value": "#0000ff"}, {"test": "indexof(datum.value, 'Lower') >= 0", "value": "#ff3333"}, {"test": "indexof(datum.value, 'Upper') >= 0", "value": "#44ee44"}], "value": "#cccccc"},
            "stroke": {"condition": [{"test": "datum.value == 'Hardness Total Calcd'", "value": "#000000"}, {"test": "datum.value == 'Hardness Total'", "value": "#0000ff"}], "value": "transparent"}
          },
          "labels": {
            "fontSize": {"value": {"expr": "datum.value && indexof(datum.value, 'CCME') == 0 ? 15 : 18"}},
            "dy": {"value": {"expr": "datum.value && indexof(datum.value, 'CCME') == 0 ? -7 : 0"}},
            "lineHeight": {"value": 16}
          }
        }}}
   }},
  {"mark": {"type": "line", "color": "#aaaaaa", "strokeWidth": 1},
   "encoding": {
    "x": {"field": "t", "type": "temporal", "scale": {"type": "utc"}},
    "y": {"field": "c", "type": "quantitative"}}}
 ]},
{"layer": [
  {"data": {"values": [{"v": 80}]},
   "mark": {"type": "rule", "strokeWidth": 1},
   "encoding": {
    "y": {"field": "v", "type": "quantitative",
      "scale": {"domain": [20, 100], "nice": false, "zero": false},
      "axis": {"orient": "left", "values": [20,30,40,50,60,70,80,90,100],
        "labelExpr": "datum.value % 20 == 0 ? datum.label : ''",
        "tickSize": {"condition": {"test": "datum.value % 20 != 0", "value": 11}, "value": 23},
        "labelPadding": 12, "labelFont": "Liberation Sans", "labelFontSize": 17, "labelColor": "#000000",
        "labelOverlap": false, "labelFlush": false, "labelBound": false,
        "tickColor": "#000000", "domainColor": "#000000", "grid": false,
        "title": "Hardness (mg/L)", "titleFont": "Liberation Sans", "titleFontSize": 17, "titleFontWeight": "normal", "titleColor": "#000000",
        "titleAngle": 270, "titleX": -83, "titleY": 246, "titleAlign": "center", "titleBaseline": "middle"}},
    "color": {"datum": "CCME DW Hardness|Lower Limit", "legend": null}}},
  {"data": {"values": [{"v": 100}]},
   "mark": {"type": "rule", "strokeWidth": 1},
   "encoding": {
    "y": {"field": "v", "type": "quantitative"},
    "color": {"datum": "CCME DW Hardness|Upper Limit", "legend": null}}},
  {"data": {"name": "total"},
   "mark": {"type": "line", "strokeWidth": 1.2},
   "encoding": {
    "x": {"field": "t", "type": "temporal", "scale": {"type": "utc"}},
    "y": {"field": "h", "type": "quantitative"},
    "color": {"datum": "Hardness Total", "legend": null}}},
  {"data": {"name": "total"},
   "mark": {"type": "point", "shape": "square", "filled": true, "size": 45, "opacity": 1},
   "encoding": {
    "x": {"field": "t", "type": "temporal", "scale": {"type": "utc"}},
    "y": {"field": "h", "type": "quantitative"},
    "color": {"datum": "Hardness Total", "legend": null}}},
  {"data": {"name": "calcd"},
   "mark": {"type": "line", "strokeWidth": 1.5},
   "encoding": {
    "x": {"field": "t", "type": "temporal", "scale": {"type": "utc"}},
    "y": {"field": "h", "type": "quantitative"},
    "color": {"datum": "Hardness Total Calcd", "legend": null}}},
  {"data": {"name": "calcd"},
   "mark": {"type": "point", "shape": "square", "filled": true, "size": 45, "opacity": 1},
   "encoding": {
    "x": {"field": "t", "type": "temporal", "scale": {"type": "utc"}},
    "y": {"field": "h", "type": "quantitative"},
    "color": {"datum": "Hardness Total Calcd", "legend": null}}}
 ]}
],
"resolve": {"scale": {"y": "independent"}}
}
